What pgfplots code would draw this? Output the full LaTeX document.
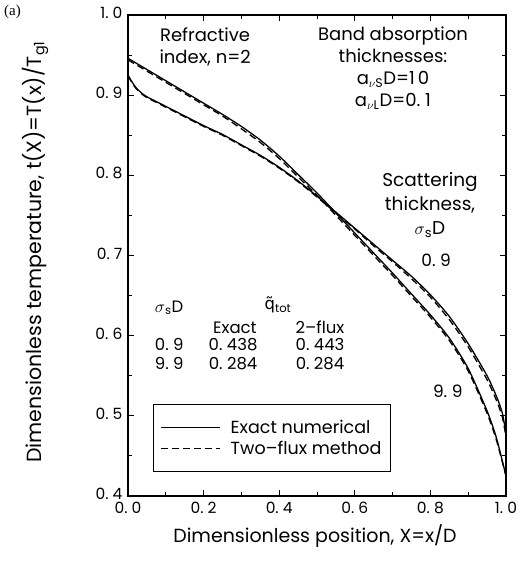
\documentclass[border=0pt]{standalone}
\usepackage{pgfplots}
\usepackage{pgfplotstable}
\pgfplotsset{compat=1.18}
\usepackage{fontspec}
\setmainfont{Poppins}
\newfontfamily\seriffont{Liberation Serif}
\newfontfamily\dejavu{DejaVu Sans}

\pgfplotstableread{
X Y
0.00 0.946
0.05 0.932
0.10 0.918
0.15 0.904
0.20 0.890
0.25 0.876
0.30 0.861
0.35 0.844
0.40 0.824
0.45 0.801
0.50 0.778
0.55 0.753
0.60 0.728
0.65 0.703
0.70 0.678
0.75 0.652
0.80 0.626
0.85 0.597
0.90 0.559
0.95 0.506
0.975 0.472
1.00 0.425
}\exactnine

\pgfplotstableread{
X Y
0.00 0.944
0.05 0.930
0.10 0.916
0.15 0.902
0.20 0.888
0.25 0.874
0.30 0.858
0.35 0.841
0.40 0.821
0.45 0.798
0.50 0.775
0.55 0.750
0.60 0.725
0.65 0.700
0.70 0.675
0.75 0.649
0.80 0.623
0.85 0.594
0.90 0.556
0.95 0.503
0.975 0.469
1.00 0.425
}\fluxnine

\pgfplotstableread{
X Y
0.00 0.925
0.01 0.917
0.02 0.910
0.035 0.903
0.05 0.898
0.10 0.886
0.15 0.874
0.20 0.862
0.25 0.851
0.30 0.838
0.35 0.825
0.40 0.810
0.45 0.793
0.50 0.774
0.55 0.754
0.60 0.734
0.65 0.714
0.70 0.694
0.75 0.674
0.80 0.651
0.85 0.624
0.90 0.590
0.95 0.550
0.975 0.524
0.99 0.504
1.00 0.478
}\exactpnine

\pgfplotstableread{
X Y
0.00 0.924
0.01 0.916
0.02 0.909
0.035 0.902
0.05 0.897
0.10 0.885
0.15 0.873
0.20 0.861
0.25 0.850
0.30 0.837
0.35 0.824
0.40 0.809
0.45 0.792
0.50 0.773
0.55 0.753
0.60 0.733
0.65 0.712
0.70 0.692
0.75 0.671
0.80 0.648
0.85 0.620
0.90 0.586
0.95 0.545
0.975 0.519
0.99 0.499
1.00 0.474
}\fluxpnine

\begin{document}
\begin{tikzpicture}[x=1pt,y=1pt]
\begin{axis}[
  at={(0,0)}, anchor=south west,
  scale only axis, width=378pt, height=481pt,
  xmin=0, xmax=1, ymin=0.4, ymax=1.0,
  xtick={0,0.2,0.4,0.6,0.8,1.0},
  xticklabels={0.\ 0,0.\ 2,0.\ 4,0.\ 6,0.\ 8,1.\ 0},
  minor xtick={0.1,0.3,0.5,0.7,0.9},
  ytick={0.4,0.5,0.6,0.7,0.8,0.9,1.0},
  yticklabels={0.\ 4,0.\ 5,0.\ 6,0.\ 7,0.\ 8,0.\ 9,1.\ 0},
  minor ytick={0.45,0.55,0.65,0.75,0.85,0.95},
  tick align=inside, tick pos=both,
  major tick length=6pt, minor tick length=4pt,
  axis line style={line width=1.3pt},
  every tick/.style={line width=0.9pt, black},
  ticklabel style={font=\fontsize{15.5}{18}\selectfont},
  xticklabel style={yshift=-3pt},
  yticklabel style={xshift=-2pt, yshift=2pt},
  legend style={at={(axis cs:0.066,0.515)}, anchor=north west, draw=black, line width=0.9pt,
    inner xsep=7pt, inner ysep=14pt, font=\fontsize{17.5}{20}\selectfont, row sep=2pt,
    /tikz/every odd column/.append style={column sep=8pt}},
  legend cell align=left,
  legend image code/.code={\draw[#1] (0pt,0pt) -- (59pt,0pt);},
  clip=false,
]
\addplot[black, line width=1.3pt, smooth, tension=0.4] table[x=X,y=Y]{\exactnine};
\addlegendentry{Exact numerical\hspace{10pt}}
\addplot[black, line width=1.3pt, smooth, tension=0.4, dash pattern=on 7pt off 4pt] table[x=X,y=Y]{\fluxnine};
\addlegendentry{Two--flux method\hspace{10pt}}
\addplot[black, line width=1.3pt, smooth, tension=0.4, forget plot] table[x=X,y=Y]{\exactpnine};
\addplot[black, line width=1.3pt, smooth, tension=0.4, dash pattern=on 7pt off 4pt, forget plot] table[x=X,y=Y]{\fluxpnine};

\node[align=center, font=\fontsize{18}{22}\selectfont] at (axis cs:0.204,0.96) {Refractive\\index, n=2};
\node[align=center, font=\fontsize{18}{22}\selectfont] at (axis cs:0.701,0.934)
  {Band absorption\\thicknesses:\\a\textsubscript{$\nu$S}D=1\,0\\a\textsubscript{$\nu$L}D=0.\ 1};
\node[align=center, font=\fontsize{18.5}{24}\selectfont] at (axis cs:0.799,0.763)
  {Scattering\\thickness,\\$\sigma$\textsubscript{s}D};
\node[font=\fontsize{17}{20}\selectfont] at (axis cs:0.815,0.694) {0.\ 9};
\node[font=\fontsize{17}{20}\selectfont] at (axis cs:0.846,0.531) {9.\ 9};

\node[anchor=west, font=\fontsize{16.5}{19}\selectfont] at (axis cs:0.062,0.635) {$\sigma$\textsubscript{s}D};
\node[anchor=west, font=\fontsize{16.5}{19}\selectfont] at (axis cs:0.352,0.638) {{\dejavu q\char"0303}\textsubscript{tot}};
\node[font=\fontsize{16.5}{19}\selectfont] at (axis cs:0.283,0.61) {Exact};
\node[font=\fontsize{16.5}{19}\selectfont] at (axis cs:0.508,0.61) {2--flux};
\node[anchor=west, font=\fontsize{16.5}{19}\selectfont] at (axis cs:0.062,0.589) {0.\ 9};
\node[font=\fontsize{16.5}{19}\selectfont] at (axis cs:0.278,0.589) {0.\ 438};
\node[font=\fontsize{16.5}{19}\selectfont] at (axis cs:0.508,0.589) {0.\ 443};
\node[anchor=west, font=\fontsize{16.5}{19}\selectfont] at (axis cs:0.062,0.565) {9.\ 9};
\node[font=\fontsize{16.5}{19}\selectfont] at (axis cs:0.278,0.565) {0.\ 284};
\node[font=\fontsize{16.5}{19}\selectfont] at (axis cs:0.508,0.565) {0.\ 284};
\end{axis}
\node[font=\fontsize{19}{23}\selectfont] at (187pt,-40pt) {Dimensionless position, X=x/D};
\node[rotate=90, font=\fontsize{20.5}{24}\selectfont] at (-93pt,244pt) {Dimensionless temperature, t(X)=T(x)/T\textsubscript{g1}};
\node[anchor=north west, inner sep=0pt, font=\seriffont\fontsize{15}{18}\selectfont] at (-124pt,491pt) {(a)};
\path[use as bounding box] (-128pt,-69pt) rectangle (401pt,496pt);
\end{tikzpicture}
\end{document}
